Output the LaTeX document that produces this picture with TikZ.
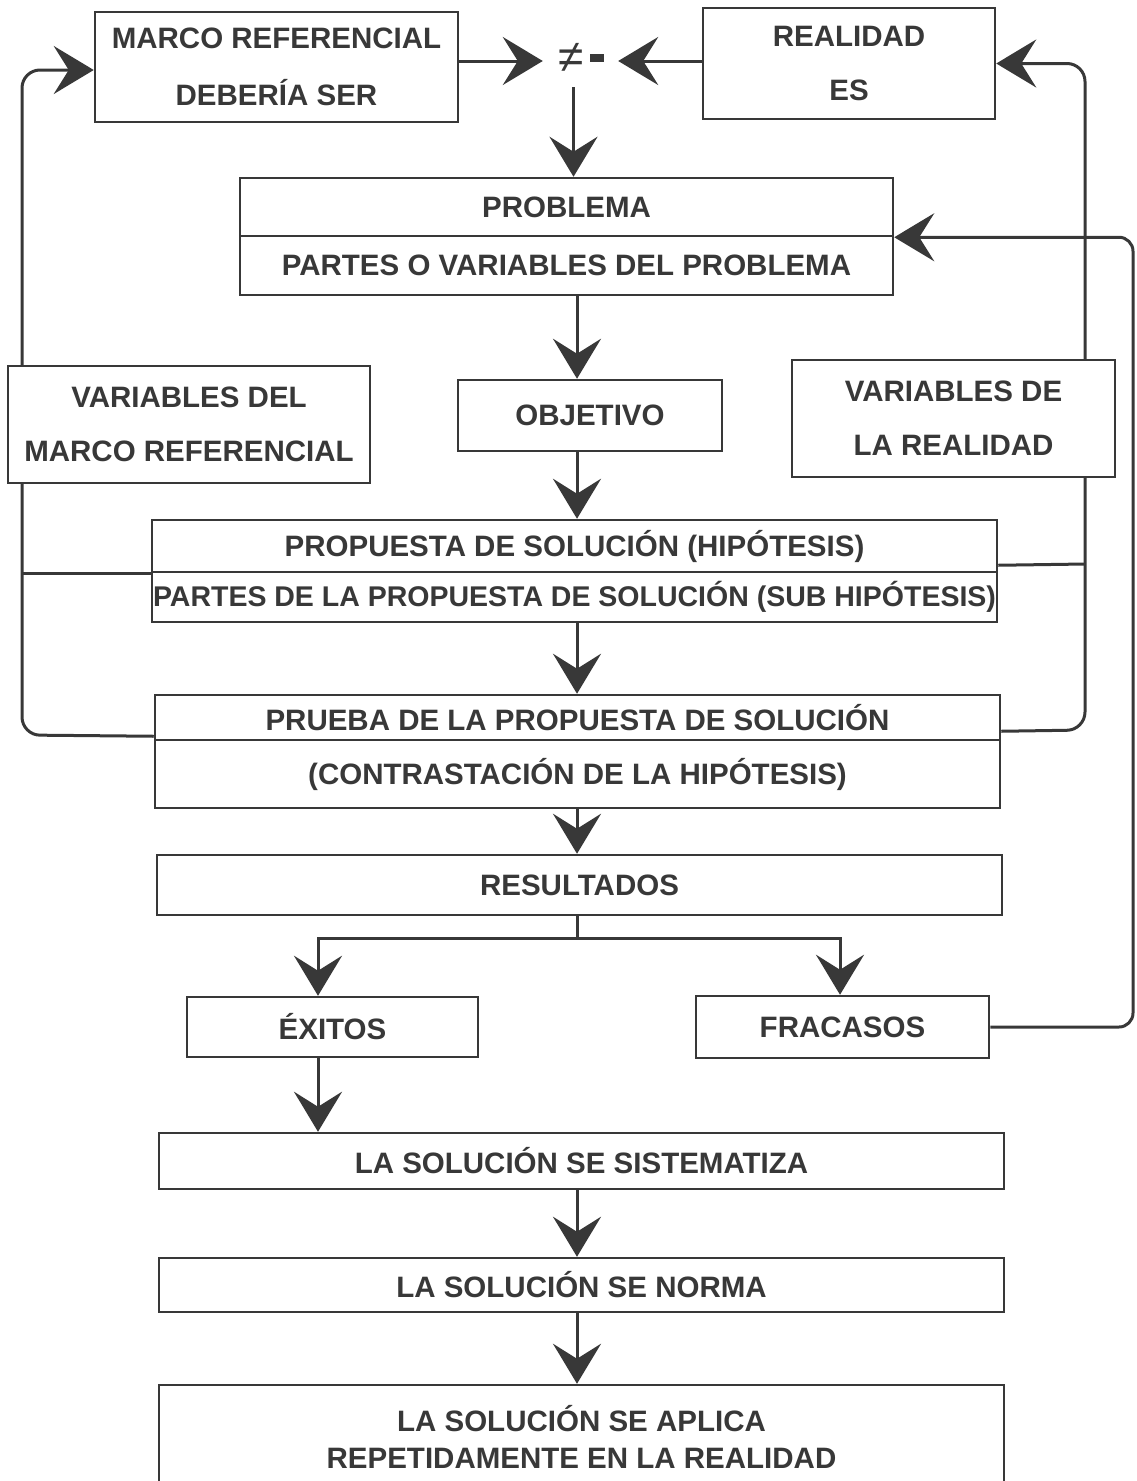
\documentclass[tikz,border=0pt]{standalone}
\usepackage{fontspec}
\setmainfont{Liberation Sans}
\usetikzlibrary{arrows.meta,calc,backgrounds}
\definecolor{ink}{HTML}{383838}
\begin{document}
\begin{tikzpicture}[x=1pt,y=-1pt,
  box/.style={draw=ink, line width=2.5pt, fill=white, inner sep=0pt, text=ink,
    font=\fontsize{29.5}{36}\selectfont\bfseries, align=center},
  conn/.style={draw=ink, line width=3pt},
  arr/.style={conn, -{Stealth[length=40pt,width=48pt,inset=15pt,fill=ink]}},
]
\useasboundingbox (0,0) rectangle (1136,1481);

% boxes
\node[box, minimum width=363pt, minimum height=110pt] (marco) at (276.5,67) {MARCO REFERENCIAL\\[21pt]DEBERÍA SER};
\node[box, minimum width=292pt, minimum height=111pt] (realidad) at (849,63.5) {REALIDAD\\[18pt]ES};
\node[inner sep=0pt, minimum width=75pt, minimum height=58pt] (neq) at (580.5,58) {};
\node[inner sep=0pt, text=ink, font=\fontsize{46}{46}\selectfont] (sym) at (571,58) {≠};
\node[box, minimum width=653pt, minimum height=58pt] (prob1) at (566.5,207) {PROBLEMA};
\node[box, minimum width=653pt, minimum height=59pt] (prob2) at (566.5,265.5) {PARTES O VARIABLES DEL PROBLEMA};
\node[box, minimum width=264pt, minimum height=71pt] (objetivo) at (590,415.5) {OBJETIVO};
\node[box, minimum width=362pt, minimum height=117pt] (varmarco) at (189,424.5) {VARIABLES DEL\\[18pt]MARCO REFERENCIAL};
\node[box, minimum width=323pt, minimum height=117pt] (varreal) at (953.5,418.5) {VARIABLES DE\\[18pt]LA REALIDAD};
\node[box, minimum width=845pt, minimum height=52pt] (prop1) at (574.5,546) {PROPUESTA DE SOLUCIÓN (HIPÓTESIS)};
\node[box, minimum width=845pt, minimum height=50pt, font=\fontsize{28.5}{36}\selectfont\bfseries] (prop2) at (574.5,597) {PARTES DE LA PROPUESTA DE SOLUCIÓN (SUB HIPÓTESIS)};
\node[box, minimum width=845pt, minimum height=45pt] (prueba1) at (577.5,717.5) {PRUEBA DE LA PROPUESTA DE SOLUCIÓN};
\node[box, minimum width=845pt, minimum height=68pt] (prueba2) at (577.5,774) {(CONTRASTACIÓN DE LA HIPÓTESIS)};
\node[box, minimum width=845pt, minimum height=60pt] (resultados) at (579.5,885) {RESULTADOS};
\node[box, minimum width=291pt, minimum height=60pt] (exitos) at (332.5,1027) {ÉXITOS};
\node[box, minimum width=293pt, minimum height=62pt] (fracasos) at (842.5,1027) {FRACASOS};
\node[box, minimum width=845pt, minimum height=56pt] (sist) at (581.5,1161) {LA SOLUCIÓN SE SISTEMATIZA};
\node[box, minimum width=845pt, minimum height=54pt] (norma) at (581.5,1285) {LA SOLUCIÓN SE NORMA};
\node[box, minimum width=845pt, minimum height=103pt] (aplica) at (581.5,1436.5) {LA SOLUCIÓN SE APLICA\\[1pt]REPETIDAMENTE EN LA REALIDAD};

\fill[ink] (590,54) rectangle (604,62);

\coordinate (L) at (22,0);
\coordinate (R) at (1085,0);
\coordinate (RR) at (1133,0);
\coordinate (ax) at (577,0);
\coordinate (ex) at (318,0);
\coordinate (fx) at (840,0);
\coordinate (sp) at (577,938);

\begin{scope}[on background layer]
% top
\draw[arr] (marco.east |- 0,61) -- (neq.west |- 0,61);
\draw[arr] (realidad.west |- 0,61) -- (neq.east |- 0,61);
\draw[arr] ([xshift=-7pt]neq.south) -- ([xshift=-7pt]neq.south |- prob1.north);
% main column
\draw[arr] (prob2.south -| ax) -- (objetivo.north -| ax);
\draw[arr] (objetivo.south -| ax) -- (prop1.north -| ax);
\draw[arr] (prop2.south -| ax) -- (prueba1.north -| ax);
\draw[arr] (prueba2.south -| ax) -- (resultados.north -| ax);
\draw[conn] (resultados.south -| ax) -- (sp);
\draw[arr] (sp) -| (exitos.north -| ex);
\draw[arr] (sp) -| (fracasos.north -| fx);
\draw[arr] (exitos.south -| ex) -- (sist.north -| ex);
\draw[arr] (sist.south -| ax) -- (norma.north -| ax);
\draw[arr] (norma.south -| ax) -- (aplica.north -| ax);
% feedback loops
\draw[arr, rounded corners=18pt] ([yshift=5pt]prueba1.south west) -- (L |- 0,735) -- (L |- 0,70) -- (marco.west |- 0,70);
\draw[arr, rounded corners=18pt] ([yshift=10pt]prueba1.south east) -- (R |- 0,730) -- (R |- 0,63.5) -- (realidad.east);
\draw[conn] (prop1.south west) -- (L |- prop1.south west);
\draw[conn] ([yshift=8pt]prop1.south east) -- (R |- 0,564);
\draw[arr, rounded corners=14pt] (fracasos.east) -- (RR |- fracasos.east) -- (RR |- prob1.south) -- (prob1.south east);
\end{scope}
\end{tikzpicture}
\end{document}
